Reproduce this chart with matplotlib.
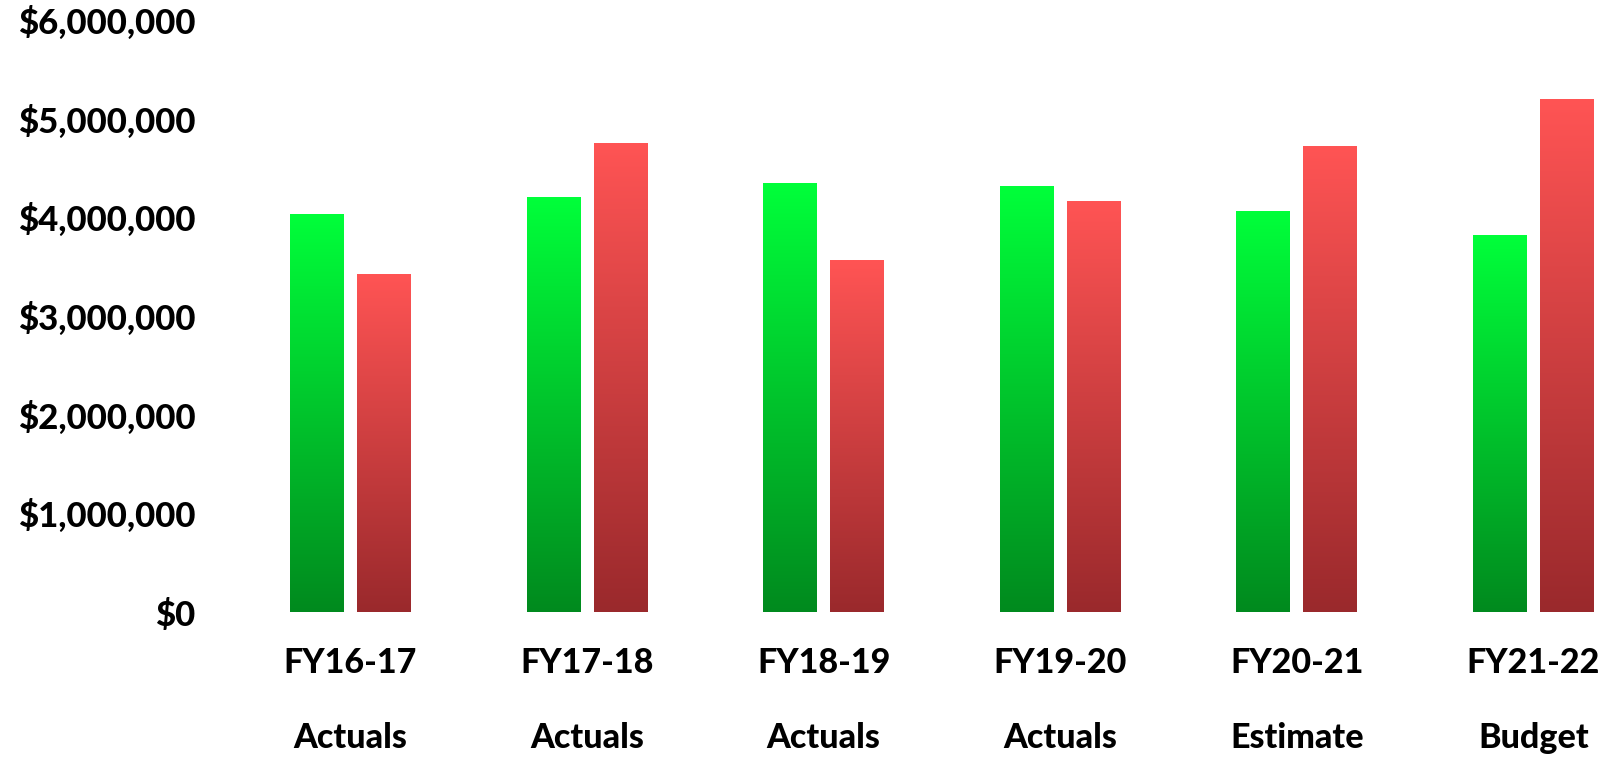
import matplotlib.pyplot as plt
from matplotlib.colors import LinearSegmentedColormap
from matplotlib.ticker import FuncFormatter
import numpy as np

years = ['FY16-17', 'FY17-18', 'FY18-19', 'FY19-20', 'FY20-21', 'FY21-22']
kinds = ['Actuals', 'Actuals', 'Actuals', 'Actuals', 'Estimate', 'Budget']
revenue = [4030000, 4200000, 4340000, 4310000, 4060000, 3820000]
expenses = [3420000, 4750000, 3560000, 4160000, 4720000, 5190000]

plt.rcParams['font.family'] = ['Lato', 'DejaVu Sans']
plt.rcParams['font.weight'] = 'black'

green = LinearSegmentedColormap.from_list('g', ['#008A1E', '#00FF3A'])
red = LinearSegmentedColormap.from_list('r', ['#9A292C', '#FF5454'])

fig = plt.figure(figsize=(16.14, 7.58), dpi=100)
ax = fig.add_axes([0.1438, 0.1926, 1.0 - 0.1438, 0.9736 - 0.1926])

x = np.arange(len(years))
w = 0.228
off = 0.1415
b1 = ax.bar(x - off, revenue, w, color='none')
b2 = ax.bar(x + off, expenses, w, color='none')

# fill every bar with its own vertical gradient
grad = np.linspace(0, 1, 256).reshape(-1, 1)
for bars, cmap in [(b1, green), (b2, red)]:
    for r in bars:
        x0, y0 = r.get_x(), r.get_y()
        ax.imshow(grad, cmap=cmap, aspect='auto', origin='lower',
                  extent=[x0, x0 + r.get_width(), y0, y0 + r.get_height()],
                  interpolation='bilinear', zorder=2)

ax.set_xlim(-0.5, 5.34)
ax.set_ylim(0, 6000000)
ax.set_yticks(np.arange(0, 6000001, 1000000))
ax.yaxis.set_major_formatter(FuncFormatter(lambda v, p: '${:,.0f}'.format(v)))
ax.tick_params(axis='y', length=0, pad=26.5, labelsize=25)
for lab in ax.get_yticklabels():
    lab.set_fontweight('black')
ax.set_xticks([])
for s in ax.spines.values():
    s.set_visible(False)

tr = ax.get_xaxis_transform()
for i in range(len(years)):
    ax.text(x[i], -0.103, years[i], transform=tr, ha='center', va='baseline',
            fontsize=24.5, fontweight='black')
    ax.text(x[i], -0.2297, kinds[i], transform=tr, ha='center', va='baseline',
            fontsize=24.5, fontweight='black')

fig.savefig('out.png', dpi=100)
